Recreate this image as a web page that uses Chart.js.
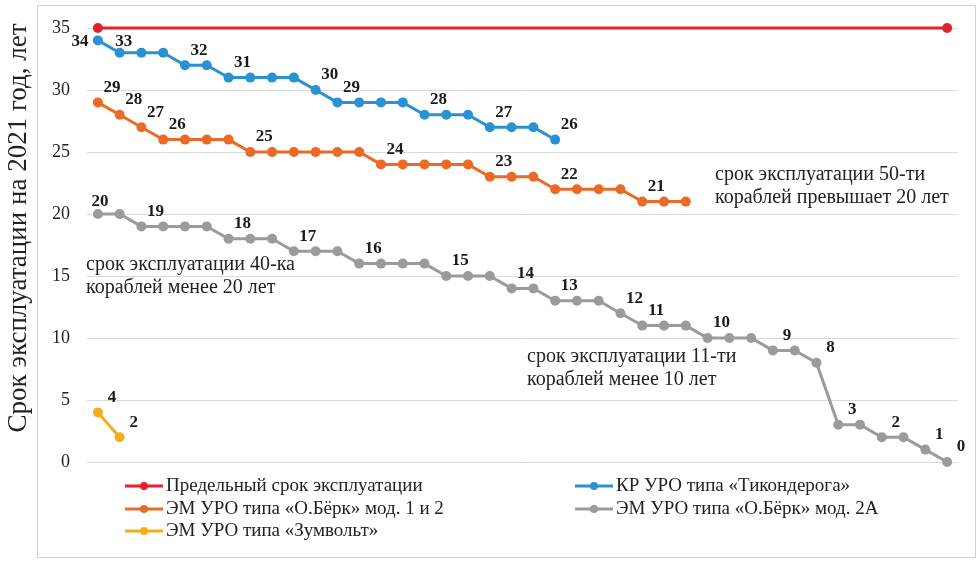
<!DOCTYPE html>
<html>
<head>
<meta charset="utf-8">
<script src="https://cdn.jsdelivr.net/npm/chart.js@4"></script>
<style>
  body { margin: 0; background: #fff; }
  #wrap { width: 977px; height: 566px; position: relative; }
</style>
</head>
<body>
<div id="wrap"><canvas id="chart"></canvas></div>
<script>
// номера кораблей по оси X
const ships = ['1','2','3','4','5','6','7','8','9','10','11','12','13','14','15','16','17','18','19','20',
  '21','22','23','24','25','26','27','28','29','30','31','32','33','34','35','36','37','38','39','40'];

// срок эксплуатации, лет
const limitPoints = [{ x: '1', y: 35 }, { x: '40', y: 35 }];
const ticonderoga = [34,33,33,33,32,32,31,31,31,31,30,29,29,29,29,28,28,28,27,27,27,26];
const burke12 = [29,28,27,26,26,26,26,25,25,25,25,25,25,24,24,24,24,24,23,23,23,22,22,22,22,21,21,21];
const burke2a = [20,20,19,19,19,19,18,18,18,17,17,17,16,16,16,16,15,15,15,14,14,13,13,13,12,11,11,11,10,10,10,9,9,8,3,3,2,2,1,0];
const zumwalt = [4,2];

// какие точки подписаны
const ticoLabels = [0,1,4,6,10,11,15,18,21];
const burke12Labels = [0,1,2,3,7,13,18,21,25];
const burke2aLabels = [0,2,6,9,12,16,19,21,24,25,28,31,33,34,36,38,39];
const zumwaltLabels = [0,1];

const yTicks = [0,5,10,15,20,25,30,35];

const seriesNames = [
  'Предельный срок эксплуатации',
  'КР УРО типа «Тикондерога»',
  'ЭМ УРО типа «О.Бёрк» мод. 1 и 2',
  'ЭМ УРО типа «О.Бёрк» мод. 2А',
  'ЭМ УРО типа «Зумвольт»'
];

const notes = [
  { x: 715, y: 175, lines: ['срок эксплуатации 50-ти', 'кораблей превышает 20 лет'] },
  { x: 86, y: 265, lines: ['срок эксплуатации 40-ка', 'кораблей менее 20 лет'] },
  { x: 527, y: 357, lines: ['срок эксплуатации 11-ти', 'кораблей менее 10 лет'] }
];

const SERIF = '"Liberation Serif", "DejaVu Serif", serif';
const colors = ['#e3222b', '#2a91d2', '#eb6a25', '#9b9b9b', '#f6ae1c'];

function series(label, data, color, labelIdx) {
  return {
    label: label,
    data: data,
    borderColor: color,
    backgroundColor: color,
    borderWidth: 3,
    pointRadius: 5,
    pointBorderWidth: 0,
    pointBackgroundColor: color,
    tension: 0,
    spanGaps: true,
    clip: false,
    labelIdx: labelIdx
  };
}

// смещения подписей (по умолчанию справа-сверху от точки)
const labelShift = { '1:0': [-18, 1], '1:1': [4, -11], '3:0': [2, -12] };

const pointLabels = {
  id: 'pointLabels',
  afterDatasetsDraw(chart) {
    const ctx = chart.ctx;
    ctx.save();
    ctx.font = 'bold 17px ' + SERIF;
    ctx.fillStyle = '#1a1a1a';
    ctx.textAlign = 'center';
    ctx.textBaseline = 'middle';
    chart.data.datasets.forEach((ds, di) => {
      if (!ds.labelIdx) return;
      const meta = chart.getDatasetMeta(di);
      ds.labelIdx.forEach(i => {
        const pt = meta.data[i];
        const s = labelShift[di + ':' + i] || [14, -15];
        ctx.fillText(String(ds.data[i]), pt.x + s[0], pt.y + s[1]);
      });
    });
    ctx.restore();
  }
};

const extras = {
  id: 'extras',
  beforeDraw(chart) {
    const ctx = chart.ctx;
    ctx.save();
    ctx.fillStyle = '#fff';
    ctx.fillRect(0, 0, chart.width, chart.height);
    ctx.strokeStyle = '#d2d2d2';
    ctx.lineWidth = 1;
    ctx.strokeRect(37.5, 5.5, 938, 552);
    ctx.restore();
  },
  afterDraw(chart) {
    const ctx = chart.ctx;
    ctx.save();
    // подпись оси Y
    ctx.font = '27px ' + SERIF;
    ctx.fillStyle = '#222';
    ctx.textAlign = 'center';
    ctx.textBaseline = 'middle';
    ctx.translate(19, 228);
    ctx.rotate(-Math.PI / 2);
    ctx.fillText('Срок эксплуатации на 2021 год, лет', 0, 0);
    ctx.restore();

    // пояснения
    ctx.save();
    ctx.font = '20px ' + SERIF;
    ctx.fillStyle = '#222';
    ctx.textAlign = 'left';
    ctx.textBaseline = 'middle';
    notes.forEach(n => {
      n.lines.forEach((t, k) => ctx.fillText(t, n.x, n.y + k * 23));
    });
    ctx.restore();

    // легенда
    const slots = [[125, 486], [575, 486], [125, 509], [575, 509], [125, 531]];
    ctx.save();
    ctx.font = '19px ' + SERIF;
    ctx.textAlign = 'left';
    ctx.textBaseline = 'middle';
    chart.data.datasets.forEach((ds, i) => {
      const [x, y] = slots[i];
      ctx.strokeStyle = ds.borderColor;
      ctx.lineWidth = 3;
      ctx.beginPath();
      ctx.moveTo(x, y);
      ctx.lineTo(x + 38, y);
      ctx.stroke();
      ctx.fillStyle = ds.borderColor;
      ctx.beginPath();
      ctx.arc(x + 19, y, 4, 0, Math.PI * 2);
      ctx.fill();
      ctx.fillStyle = '#222';
      ctx.fillText(ds.label, x + 41, y);
    });
    ctx.restore();
  }
};

new Chart(document.getElementById('chart'), {
  type: 'line',
  data: {
    labels: ships,
    datasets: [
      series(seriesNames[0], limitPoints, colors[0], null),
      series(seriesNames[1], ticonderoga, colors[1], ticoLabels),
      series(seriesNames[2], burke12, colors[2], burke12Labels),
      series(seriesNames[3], burke2a, colors[3], burke2aLabels),
      series(seriesNames[4], zumwalt, colors[4], zumwaltLabels)
    ]
  },
  options: {
    responsive: true,
    maintainAspectRatio: false,
    animation: false,
    layout: { padding: { left: 0, top: 28, right: 19, bottom: 104 } },
    plugins: {
      legend: { display: false },
      tooltip: { enabled: false }
    },
    scales: {
      x: {
        type: 'category',
        offset: true,
        display: false
      },
      y: {
        min: 0,
        max: 35,
        afterFit(scale) { scale.width = 87; },
        afterBuildTicks(scale) { scale.ticks = yTicks.map(v => ({ value: v })); },
        ticks: {
          padding: 17,
          color: '#222',
          font: { family: SERIF, size: 18 }
        },
        grid: { color: '#dadada', lineWidth: 1, drawTicks: false },
        border: { display: false }
      }
    }
  },
  plugins: [pointLabels, extras]
});
</script>
</body>
</html>
